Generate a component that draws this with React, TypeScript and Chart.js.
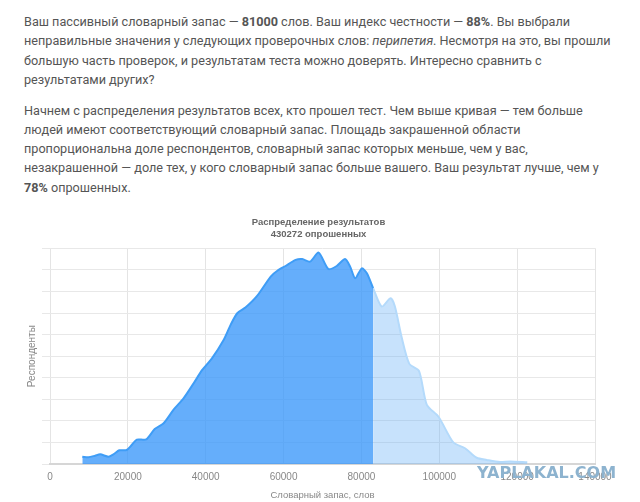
import { useEffect, useRef } from 'react';
import { Chart, registerables } from 'chart.js';

Chart.register(...registerables);

// words known, up to the result of the test
const belowWords = [8300, 9900, 11600, 12900, 15000, 16300, 17800, 19700, 21000, 22300, 24700, 26900, 29200, 31800, 34300, 36900, 39100, 41600, 44600, 46400, 48100, 50200, 53200, 56700, 58400, 60500, 63100, 64800, 66800, 69000, 71500, 73650, 75800, 77100, 78400, 80100, 81400, 83000];
const belowCounts = [340, 310, 386, 448, 340, 448, 634, 650, 880, 1130, 1140, 1620, 1890, 2530, 3040, 3740, 4360, 4900, 5750, 6450, 6990, 7250, 7790, 8690, 8960, 9180, 9460, 9500, 9380, 9800, 9040, 9180, 9500, 9150, 8610, 9070, 8840, 8150];

// words known, above the result
const aboveWords = [83000, 85200, 87500, 88600, 90300, 92300, 94800, 96800, 99800, 103600, 106600, 109600, 112200, 115600, 118200, 122600];
const aboveCounts = [8150, 7300, 7680, 7300, 5900, 4640, 4310, 2740, 2190, 1000, 730, 290, 190, 90, 120, 80];

const chartTitle = ['Распределение результатов', '430272 опрошенных'];
const xAxisTitle = 'Словарный запас, слов';
const yAxisTitle = 'Респонденты';

const toPoints = (xs: number[], ys: number[]) => xs.map((x, i) => ({ x, y: ys[i] }));

const paragraph: React.CSSProperties = {
	position: 'absolute',
	left: 24,
	margin: 0,
	width: 610,
	whiteSpace: 'nowrap',
	font: '12.65px/19.3px Roboto, sans-serif',
	color: '#555',
};

export default function App() {
	const canvasRef = useRef<HTMLCanvasElement | null>(null);

	useEffect(() => {
		const ctx = canvasRef.current?.getContext('2d');
		if (!ctx) return;

		const chart = new Chart(ctx, {
			type: 'line',
			data: {
				datasets: [
					{
						data: toPoints(belowWords, belowCounts),
						borderColor: '#3f9df6',
						borderWidth: 2,
						backgroundColor: 'rgba(52,148,250,0.76)',
						fill: 'origin',
						pointRadius: 0,
						tension: 0.25,
					},
					{
						data: toPoints(aboveWords, aboveCounts),
						borderColor: '#b4dafb',
						borderWidth: 2,
						backgroundColor: 'rgba(100,175,248,0.36)',
						fill: 'origin',
						pointRadius: 0,
						tension: 0.25,
					},
				],
			},
			options: {
				animation: false,
				responsive: false,
				layout: { padding: { left: 42, right: 45, top: 0, bottom: 0 } },
				plugins: {
					legend: { display: false },
					tooltip: { enabled: false },
					title: {
						display: true,
						text: chartTitle,
						color: '#666',
						font: { family: '"Liberation Sans"', size: 9.5, weight: 'bold', lineHeight: 1.3 },
						padding: { top: 11, bottom: 7.6 },
					},
				},
				scales: {
					x: {
						type: 'linear',
						min: 0,
						max: 140000,
						afterFit: (scale) => {
							scale.height = 38;
						},
						grid: { color: '#e4e4e4', drawTicks: false },
						border: { color: '#d6d6d6', width: 2 },
						ticks: {
							stepSize: 20000,
							color: '#888',
							padding: 7,
							maxRotation: 0,
							font: { family: '"Liberation Sans"', size: 10 },
							callback: (value) => String(value),
						},
						title: {
							display: true,
							text: xAxisTitle,
							color: '#888',
							font: { family: '"Liberation Sans"', size: 9.5 },
							padding: { top: 0, bottom: 1 },
						},
					},
					y: {
						min: 0,
						max: 10000,
						afterFit: (scale) => {
							scale.width = 8;
						},
						grid: { color: '#e8e8e8', tickLength: 8 },
						border: { display: false },
						ticks: { stepSize: 1000, autoSkip: false, callback: () => '' },
						title: {
							display: true,
							text: yAxisTitle,
							color: '#888',
							font: { family: '"Liberation Sans"', size: 10 },
							padding: { top: -16, bottom: 0 },
						},
					},
				},
			},
		});

		return () => chart.destroy();
	}, []);

	return (
		<div style={{ position: 'absolute', left: 0, top: 0, width: 640, height: 502, overflow: 'hidden', background: '#fff' }}>
			<p style={{ ...paragraph, top: 12 }}>
				Ваш пассивный словарный запас — <b>81000</b> слов. Ваш индекс честности — <b>88%</b>. Вы выбрали
				<br />
				неправильные значения у следующих проверочных слов: <i>перипетия</i>. Несмотря на это, вы прошли
				<br />
				большую часть проверок, и результатам теста можно доверять. Интересно сравнить с
				<br />
				результатами других?
			</p>
			<p style={{ ...paragraph, top: 100.5 }}>
				Начнем с распределения результатов всех, кто прошел тест. Чем выше кривая — тем больше
				<br />
				людей имеют соответствующий словарный запас. Площадь закрашенной области
				<br />
				пропорциональна доле респондентов, словарный запас которых меньше, чем у вас,
				<br />
				незакрашенной — доле тех, у кого словарный запас больше вашего. Ваш результат лучше, чем у
				<br />
				<b>78%</b> опрошенных.
			</p>
			<canvas ref={canvasRef} width={640} height={297} style={{ position: 'absolute', left: 0, top: 205 }}></canvas>
			<div style={{ position: 'absolute', left: 477, top: 463, font: 'bold 16px "DejaVu Sans", sans-serif', color: '#8db3cf', whiteSpace: 'nowrap' }}>
				YAPLAKAL.COM
			</div>
		</div>
	);
}
